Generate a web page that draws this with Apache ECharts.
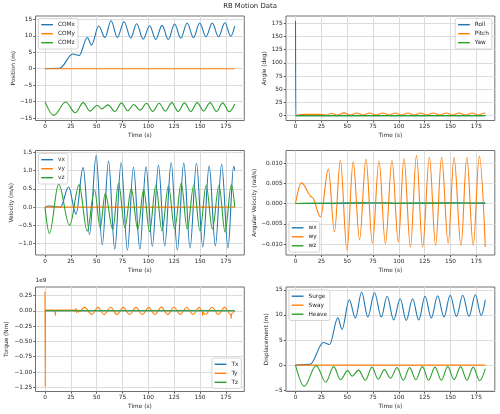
<!DOCTYPE html>
<html><head><meta charset="utf-8">
<script src="https://cdn.jsdelivr.net/npm/echarts@6/dist/echarts.min.js"></script>
<style>html,body{margin:0;padding:0;background:#fff}#c{width:500px;height:414px}</style>
</head><body><div id="c"></div>
<script>
// ---- tick values ----
const timeTicks = [0, 25, 50, 75, 100, 125, 150, 175];
const posTicks = [-15, -10, -5, 0, 5, 10, 15];
const angleTicks = [0, 25, 50, 75, 100, 125, 150, 175];
const velTicks = [-1.0, -0.5, 0.0, 0.5, 1.0, 1.5];
const angVelTicks = [-0.010, -0.005, 0.000, 0.005, 0.010];
const torqueTicks = [-1.25, -1.00, -0.75, -0.50, -0.25, 0.00, 0.25]; // x 1e9
const dispTicks = [-5, 0, 5, 10, 15];

// ---- series values [time (s), value] (peaks/troughs) ----
const COMx = [[0,0],[14,0.15],[27,4.5],[33,4.05],[41,9.5],[45,7.2],[52,13.0],[58,9.5],[64,14.6],[70,9.5],[76.5,14.3],[83,9.3],[88.7,13.7],[95,9.0],[101.3,13.1],[107.2,8.9],[113.3,13.2],[119.3,8.9],[125.4,13.6],[131.4,9.3],[137.6,13.9],[143.7,9.5],[149.7,13.9],[155.8,9.7],[161.9,13.9],[167.9,9.7],[174.1,14.0],[179.7,9.9],[183.7,13.0]];
const COMy = [[0,0],[183.7,0]];
const COMz = [[0,-10],[8.5,-14.2],[20,-10.1],[29.3,-13.4],[37,-10.3],[43.5,-12.9],[50.6,-11.1],[54.8,-12.2],[61,-11.0],[67.7,-13.0],[74,-10.4],[80,-12.8],[86,-10.9],[92,-12.6],[98.3,-10.5],[104.3,-13.0],[110.5,-10.5],[116.5,-12.9],[122.8,-10.3],[128.8,-13.0],[135,-10.4],[141.2,-13.0],[147.3,-10.3],[153.5,-12.9],[159.8,-10.3],[165.9,-13.0],[172,-10.4],[178.2,-13.1],[183.7,-10.7]];

const Roll = [[0,180],[0.3,0],[183.7,0]];
const Pitch = [[0,0],[10,2.5],[25,2.3],[30,1.0],[34.7,4.5],[40.8,0.9],[46.9,5.2],[53,1.0],[59.4,4.8],[65.5,0.9],[71.6,5.0],[78,0.9],[84.4,5.0],[90.5,0.9],[96.6,4.8],[102.7,0.9],[108.8,4.8],[115,0.9],[121,5.0],[127.2,0.9],[133.3,5.0],[139.7,0.9],[146.1,5.0],[152.2,0.9],[158.3,5.0],[164.7,0.9],[171.1,5.0],[177,0.9],[183,4.8],[183.7,4.6]];
const Yaw = [[0,0],[183.7,0]];

const vx = [[0,0],[4,0.03],[10,0.01],[15,0.0],[22.8,0.55],[30,-0.19],[36.9,1.08],[43.1,-0.75],[49.5,1.41],[55.4,-1.03],[61.5,1.26],[67.5,-1.15],[73.7,1.22],[79.8,-1.18],[85.6,1.1],[91.8,-1.15],[97.8,1.11],[103.9,-1.07],[109.8,1.15],[115.9,-1.06],[122.1,1.22],[128.1,-1.18],[134.3,1.21],[140.4,-1.12],[146.6,1.2],[152.7,-1.09],[158.9,1.13],[164.9,-1.06],[171,1.18],[177.1,-1.12],[182.6,1.12],[183.7,1.0]];
const vy = [[0,0],[183.7,0]];
const vz = [[0,0],[4.3,-0.72],[13.2,0.63],[23.8,-0.5],[33,0.61],[40.8,-0.66],[48,0.47],[53.4,-0.56],[58.3,0.37],[65.6,-0.61],[71.2,0.65],[77.3,-0.56],[83.5,0.5],[89.8,-0.6],[95.5,0.48],[101.2,-0.67],[107.3,0.6],[113.2,-0.65],[119.5,0.58],[125.5,-0.6],[131.8,0.65],[137.7,-0.6],[144,0.6],[150,-0.65],[156,0.6],[162,-0.6],[168.4,0.6],[174.3,-0.68],[180.4,0.62],[183.7,0.0]];

const wx = [[0,0],[30,0],[60,0.0001],[87,0.0002],[95,0],[120,0.0001],[150,0.0002],[183.7,0]];
const wy = [[0,0],[5.8,0.0051],[16,0.0016],[24.2,-0.0033],[31.8,0.0085],[37.7,-0.0070],[43.4,0.0107],[49.8,-0.0115],[55.8,0.0103],[62,-0.0089],[68.2,0.0110],[74.4,-0.0099],[80.8,0.0105],[87,-0.0099],[93.4,0.0106],[99.5,-0.0095],[105,0.0112],[111.2,-0.0107],[117.1,0.0119],[123,-0.0108],[129.6,0.0115],[135.6,-0.0104],[141.4,0.0115],[147.8,-0.0099],[153.4,0.0115],[160.2,-0.0104],[165.8,0.0115],[172,-0.0103],[177.9,0.0117],[183.7,-0.0107]];
const wz = [[0,0],[20,0.0001],[60,0.0002],[100,0.0001],[140,0.0001],[183.7,0.0002]];

// torque in units of 1e9 Nm
const Tx = [[0,0],[183.7,0]];
const Ty = [[0,0.31],[0.2,-1.24],[0.5,0.015],[9.7,0.01],[10,-0.08],[10.3,0.01],[29.5,0.01],[30.2,0.035],[30.5,-0.03],[31,0.01],[32.5,-0.02],[38.4,0.055],[45.2,-0.06],[51.2,0.055],[57.3,-0.06],[63.5,0.058],[69.6,-0.062],[75.8,0.055],[81.8,-0.06],[88.1,0.055],[94.2,-0.06],[100.3,0.055],[106.4,-0.062],[112.6,0.06],[118.7,-0.062],[124.8,0.058],[130.9,-0.06],[137.1,0.058],[143.2,-0.06],[149.3,0.055],[152.2,-0.02],[152.5,-0.08],[152.8,-0.03],[155.4,-0.06],[161.6,0.058],[167.7,-0.06],[173.8,0.055],[179.8,-0.06],[180.2,-0.13],[180.6,-0.05],[183.7,0.0]];
const Tz = [[0,0],[183.7,0]];

const Surge = [[0,0],[14,0.15],[27,4.5],[33,4.1],[41,9.4],[45,7.1],[52,13.0],[58,9.4],[64,14.5],[70,9.6],[76.5,14.4],[83,9.6],[88.7,13.7],[95,9.0],[101.3,13.2],[107.2,8.9],[113.3,13.2],[119.3,9.0],[125.4,13.7],[131.4,9.4],[137.6,13.8],[143.7,9.6],[149.7,13.9],[155.8,9.7],[161.9,13.9],[167.9,9.7],[174.1,14.0],[179.7,9.9],[183.7,13.0]];
const Sway = [[0,0],[183.7,0]];
const Heave = [[0,0],[8.5,-4.2],[20,-0.1],[29.3,-3.4],[37,-0.3],[43.5,-2.9],[50.6,-1.1],[54.8,-2.2],[61,-1.0],[67.7,-3.0],[74,-0.4],[80,-2.8],[86,-0.9],[92,-2.6],[98.3,-0.5],[104.3,-3.0],[110.5,-0.5],[116.5,-2.9],[122.8,-0.3],[128.8,-3.0],[135,-0.4],[141.2,-3.0],[147.3,-0.3],[153.5,-2.9],[159.8,-0.3],[165.9,-3.0],[172,-0.4],[178.2,-3.1],[183.7,-0.7]];

// ---- styling / layout ----
const FONT = 'DejaVu Sans';
const TXT = '#262626';
const C = ['#1f77b4', '#ff7f0e', '#2ca02c'];
const XMIN = -9.19, XMAX = 192.9;
const FS = 5.8;

function fmt(dec) {
  return function (v) {
    const s = (Math.abs(v) < 1e-12 ? 0 : v).toFixed(dec);
    return s.replace('-', '\u2212');
  };
}

const panels = [
  { grid: {left: 35.5, top: 16, width: 208.8, height: 104.5}, ylabel: 'Position (m)', ticks: posTicks, dec: 0, min: -15.75, max: 16.05, gap: 19.5,
    series: [['COMx', COMx], ['COMy', COMy], ['COMz', COMz]], legend: {left: 38.4, top: 18.4} },
  { grid: {left: 286, top: 16, width: 208.8, height: 104.5}, ylabel: 'Angle (deg)', ticks: angleTicks, dec: 0, min: -9.3, max: 189, gap: 18.6,
    series: [['Roll', Roll], ['Pitch', Pitch], ['Yaw', Yaw]], legend: {right: 8.1, top: 18.4} },
  { grid: {left: 35.5, top: 150.5, width: 208.8, height: 104.5}, ylabel: 'Velocity (m/s)', ticks: velTicks, dec: 1, min: -1.31, max: 1.55, gap: 20,
    series: [['vx', vx], ['vy', vy], ['vz', vz]], legend: {left: 38.4, top: 153.4} },
  { grid: {left: 286, top: 150.5, width: 208.8, height: 104.5}, ylabel: 'Angular Velocity (rad/s)', ticks: angVelTicks, dec: 3, min: -0.0127, max: 0.0131, gap: 28.6,
    series: [['wx', wx], ['wy', wy], ['wz', wz]], legend: {left: 288.9, bottom: 161.9} },
  { grid: {left: 35.5, top: 287, width: 208.8, height: 104.5}, ylabel: 'Torque (Nm)', ticks: torqueTicks, dec: 2, min: -1.318, max: 0.388, gap: 26,
    series: [['Tx', Tx], ['Ty', Ty], ['Tz', Tz]], legend: {right: 258.6, bottom: 25.4} },
  { grid: {left: 286, top: 287, width: 208.8, height: 104.5}, ylabel: 'Displacement (m)', ticks: dispTicks, dec: 0, min: -5.25, max: 15.55, gap: 16.6,
    series: [['Surge', Surge], ['Sway', Sway], ['Heave', Heave]], legend: {left: 288.9, top: 289.9} }
];

const option = {
  animation: false,
  backgroundColor: '#fff',
  title: [
    { text: 'RB Motion Data', left: 'center', top: 3, padding: 0,
      textStyle: { fontFamily: FONT, fontSize: 6.9, fontWeight: 'normal', color: TXT } },
    { text: '1e9', left: 35.5, top: 277.6, padding: 0,
      textStyle: { fontFamily: FONT, fontSize: FS, fontWeight: 'normal', color: TXT } }
  ],
  grid: [], xAxis: [], yAxis: [], series: [], legend: []
};

panels.forEach(function (p, i) {
  option.grid.push(Object.assign({ show: true, borderColor: '#4d4d4d', borderWidth: 0.8, backgroundColor: 'transparent', containLabel: false }, p.grid));
  option.xAxis.push({
    type: 'value', gridIndex: i, min: XMIN, max: XMAX,
    name: 'Time (s)', nameLocation: 'middle', nameGap: 12,
    nameTextStyle: { fontFamily: FONT, fontSize: FS, color: TXT },
    axisLine: { show: false, onZero: false },
    axisTick: { show: true, length: 2.2, customValues: timeTicks, lineStyle: { color: '#333', width: 0.8 } },
    axisLabel: { customValues: timeTicks, fontFamily: FONT, fontSize: FS, color: TXT, margin: 3.3, formatter: fmt(0) },
    splitLine: { show: true, lineStyle: { color: '#dcdcdc', width: 1 } }
  });
  option.yAxis.push({
    type: 'value', gridIndex: i, min: p.min, max: p.max,
    name: p.ylabel, nameLocation: 'middle', nameGap: p.gap,
    nameTextStyle: { fontFamily: FONT, fontSize: FS, color: TXT },
    axisLine: { show: false, onZero: false },
    axisTick: { show: true, length: 2.2, customValues: p.ticks, lineStyle: { color: '#333', width: 0.8 } },
    axisLabel: { customValues: p.ticks, fontFamily: FONT, fontSize: FS, color: TXT, margin: 3.3, formatter: fmt(p.dec) },
    splitLine: { show: true, lineStyle: { color: '#dcdcdc', width: 1 } }
  });
  p.series.forEach(function (s, k) {
    option.series.push({
      type: 'line', name: s[0], xAxisIndex: i, yAxisIndex: i, data: s[1],
      symbol: 'none', showSymbol: false, smooth: 0.36, smoothMonotone: 'x',
      lineStyle: { width: 1.1, color: C[k] }, itemStyle: { color: C[k] },
      emphasis: { disabled: true }, silent: true, clip: true
    });
  });
  option.legend.push(Object.assign({
    orient: 'vertical', data: p.series.map(function (s) { return s[0]; }),
    icon: 'rect', itemWidth: 11.8, itemHeight: 1.4, itemGap: 2.4,
    padding: [3, 3, 3, 2.8], backgroundColor: 'rgba(255,255,255,0.8)',
    borderColor: '#cccccc', borderWidth: 0.8, borderRadius: 2,
    selectedMode: false,
    textStyle: { fontFamily: FONT, fontSize: FS, color: TXT, lineHeight: 6.6 }
  }, p.legend));
});

const chart = echarts.init(document.getElementById('c'), null, { renderer: 'canvas' });
chart.setOption(option);
</script></body></html>
